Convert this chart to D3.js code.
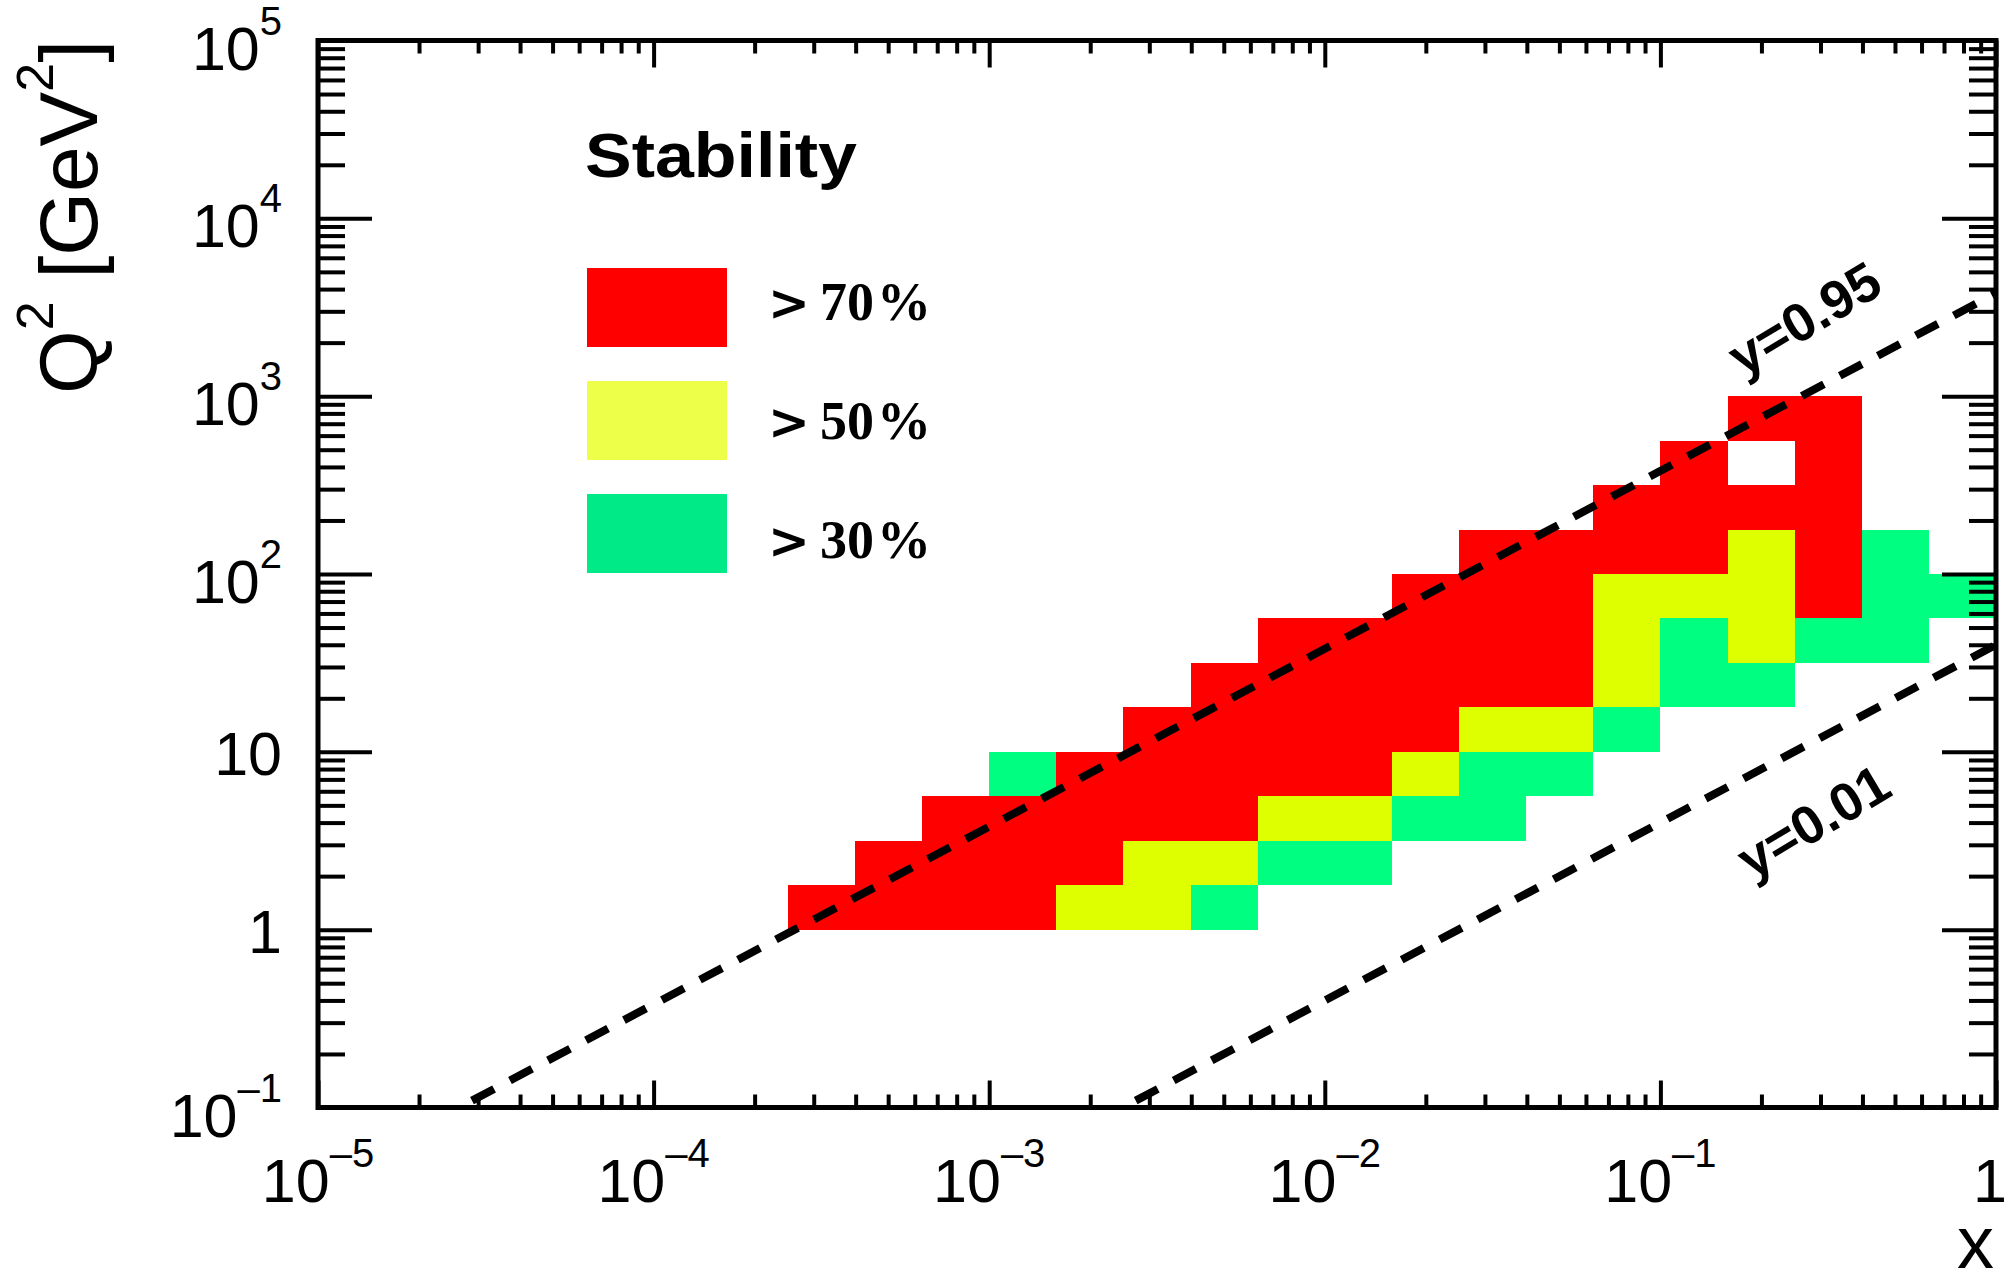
<!DOCTYPE html>
<html>
<head>
<meta charset="utf-8">
<script src="https://cdn.jsdelivr.net/npm/d3@7"></script>
<style>
  body { margin: 0; background: #fff; }
  svg { display: block; }
  text { font-family: "Liberation Sans", Arial, Helvetica, sans-serif; fill: #000; }
</style>
</head>
<body>
<script>
const width = 2010, height = 1286;

// histogram binning: lower edges in log10, x bins 0.2 decade, Q2 bins 0.25 decade
const xBinLow = [-3.6, -3.4, -3.2, -3.0, -2.8, -2.6, -2.4, -2.2, -2.0,
                 -1.8, -1.6, -1.4, -1.2, -1.0, -0.8, -0.6, -0.4, -0.2];
const q2BinLow = [2.75, 2.5, 2.25, 2.0, 1.75, 1.5, 1.25, 1.0, 0.75, 0.5, 0.25, 0.0]; // top row first
const xBinWidth = 0.2;
const q2BinWidth = 0.25;

// stability class per bin (one string per Q2 row, one char per x bin)
// R: > 70%, Y: > 50%, G: > 30%, '.': below
const stabilityMap = [
  "..............RR..",
  ".............R.R..",
  "............RRRR..",
  "..........RRRRYRG.",
  ".........RRRYYYRGG",
  ".......RRRRRYGYGG.",
  "......RRRRRRYGG...",
  ".....RRRRRYYG.....",
  "...GRRRRRYGG......",
  "..RRRRRYYGG.......",
  ".RRRRYYGG.........",
  "RRRRYYG..........."
];

const legendLabels = ["70%", "50%", "30%"];
const legendColors = ["#ff0000", "#eeff4a", "#00ea88"];
const cellColors = { R: "#ff0000", Y: "#deff00", G: "#00ff80" };

// lines of constant inelasticity y, Q2 = s x y
const sGeV2 = 4000;
const yValues = [0.95, 0.01];
const yLabelPos = [[0.268, 2750], [0.285, 4.1]]; // [x, Q2] of label centres

// tick labels: [base, exponent]
const xTickLabels = [["10", "\u20135"], ["10", "\u20134"], ["10", "\u20133"], ["10", "\u20132"], ["10", "\u20131"], ["1", ""]];
const xTickValues = [1e-5, 1e-4, 1e-3, 1e-2, 1e-1, 1];
const yTickLabels = [["10", "\u20131"], ["1", ""], ["10", ""], ["10", "2"], ["10", "3"], ["10", "4"], ["10", "5"]];
const yTickValues = [1e-1, 1, 10, 1e2, 1e3, 1e4, 1e5];

const svg = d3.select("body").append("svg")
  .attr("width", width)
  .attr("height", height);

const x = d3.scaleLog().domain([1e-5, 1]).range([318, 1996]);
const y = d3.scaleLog().domain([0.1, 1e5]).range([1107.5, 40.5]);

svg.append("clipPath").attr("id", "frame-clip")
  .append("rect")
  .attr("x", x.range()[0]).attr("y", y.range()[1])
  .attr("width", x.range()[1] - x.range()[0])
  .attr("height", y.range()[0] - y.range()[1]);

// histogram cells
let cells = [];
stabilityMap.forEach((row, ri) => {
  row.split("").forEach((c, ci) => {
    if (c !== ".") cells.push({ xlo: xBinLow[ci], qlo: q2BinLow[ri], cls: c });
  });
});

svg.append("g").selectAll("rect").data(cells).enter()
  .append("rect")
  .attr("x", d => x(10 ** d.xlo))
  .attr("width", d => x(10 ** (d.xlo + xBinWidth)) - x(10 ** d.xlo))
  .attr("y", d => y(10 ** (d.qlo + q2BinWidth)))
  .attr("height", d => y(10 ** d.qlo) - y(10 ** (d.qlo + q2BinWidth)))
  .attr("fill", d => cellColors[d.cls])
  .attr("shape-rendering", "crispEdges");

// dashed y lines
const line = d3.line().x(d => x(d[0])).y(d => y(d[1]));
svg.append("g").attr("clip-path", "url(#frame-clip)")
  .selectAll("path").data(yValues).enter()
  .append("path")
  .attr("d", v => line([[0.05 / (sGeV2 * v), 0.05], [1, sGeV2 * v]]))
  .attr("fill", "none")
  .attr("stroke", "#000")
  .attr("stroke-width", 8)
  .attr("stroke-dasharray", "25 18");

// angle of the lines on screen
const angle = Math.atan2(y(sGeV2) - y(sGeV2 * 0.1), x(1) - x(0.1)) * 180 / Math.PI;

svg.append("g").selectAll("text").data(yValues).enter()
  .append("text")
  .attr("transform", (v, i) => `translate(${x(yLabelPos[i][0])},${y(yLabelPos[i][1])}) rotate(${angle - 3})`)
  .attr("text-anchor", "middle")
  .attr("dy", "0.36em")
  .style("font-size", "54px")
  .style("font-weight", "bold")
  .text(v => "y=" + v);

// frame
svg.append("rect")
  .attr("x", x.range()[0]).attr("y", y.range()[1])
  .attr("width", x.range()[1] - x.range()[0])
  .attr("height", y.range()[0] - y.range()[1])
  .attr("fill", "none")
  .attr("stroke", "#000")
  .attr("stroke-width", 5);

// ticks: majors at powers of ten, minors from the log scale ticks
const isPow = v => Math.abs(Math.log10(v) - Math.round(Math.log10(v))) < 1e-9;
const xMinor = x.ticks().filter(v => !isPow(v));
const yMinor = y.ticks().filter(v => !isPow(v));

function tickGroup(axis, tx, ty) {
  const g = svg.append("g").attr("transform", `translate(${tx},${ty})`).call(axis.tickFormat(""));
  g.select(".domain").remove();
  g.selectAll(".tick line").attr("stroke", "#000").attr("stroke-width", 4);
}

tickGroup(d3.axisBottom(x).tickValues(xTickValues).tickSize(-27), 0, y.range()[0]);
tickGroup(d3.axisBottom(x).tickValues(xMinor).tickSize(-13), 0, y.range()[0]);
tickGroup(d3.axisTop(x).tickValues(xTickValues).tickSize(-27), 0, y.range()[1]);
tickGroup(d3.axisTop(x).tickValues(xMinor).tickSize(-13), 0, y.range()[1]);
tickGroup(d3.axisLeft(y).tickValues(yTickValues).tickSize(-54), x.range()[0], 0);
tickGroup(d3.axisLeft(y).tickValues(yMinor).tickSize(-27), x.range()[0], 0);
tickGroup(d3.axisRight(y).tickValues(yTickValues).tickSize(-54), x.range()[1], 0);
tickGroup(d3.axisRight(y).tickValues(yMinor).tickSize(-27), x.range()[1], 0);

// tick labels with superscripts
function powerLabel(sel, lab) {
  sel.append("tspan").text(lab[0]);
  if (lab[1] !== "") {
    sel.append("tspan").attr("dy", -35).style("font-size", "40px").text(lab[1]);
  }
}

svg.append("g").selectAll("text").data(xTickValues).enter()
  .append("text")
  .attr("x", (d, i) => x(d) - (i === xTickValues.length - 1 ? 6 : 0))
  .attr("y", 1202)
  .attr("text-anchor", "middle")
  .style("font-size", "61px")
  .each(function(d, i) { powerLabel(d3.select(this), xTickLabels[i]); });

svg.append("g").selectAll("text").data(yTickValues).enter()
  .append("text")
  .attr("x", 282)
  .attr("y", (d, i) => y(d) + (yTickLabels[i][1] !== "" ? 29 : 23))
  .attr("text-anchor", "end")
  .style("font-size", "61px")
  .each(function(d, i) { powerLabel(d3.select(this), yTickLabels[i]); });

// axis titles
svg.append("text")
  .attr("x", 1994).attr("y", 1268)
  .attr("text-anchor", "end")
  .style("font-size", "74px")
  .text("x");

let yTitle = svg.append("text")
  .attr("transform", "translate(97,40) rotate(-90)")
  .attr("text-anchor", "end")
  .style("font-size", "82px");
yTitle.append("tspan").text("Q");
yTitle.append("tspan").attr("dy", -44).style("font-size", "52px").text("2");
yTitle.append("tspan").attr("dy", 44).text(" [GeV");
yTitle.append("tspan").attr("dy", -44).style("font-size", "52px").text("2");
yTitle.append("tspan").attr("dy", 44).text("]");

// legend
svg.append("text")
  .attr("x", 585).attr("y", 177)
  .attr("textLength", 272)
  .attr("lengthAdjust", "spacingAndGlyphs")
  .style("font-size", "63px")
  .style("font-weight", "bold")
  .text("Stability");

let legend = svg.append("g").selectAll("g").data(legendLabels).enter().append("g");
legend.append("rect")
  .attr("x", 587)
  .attr("y", (d, i) => 268 + i * 113)
  .attr("width", 140)
  .attr("height", 79)
  .attr("fill", (d, i) => legendColors[i]);
let legendText = legend.append("text")
  .attr("x", 768)
  .attr("y", (d, i) => 320 + i * 119)
  .style("font-family", "'Liberation Serif', 'Times New Roman', serif")
  .style("font-weight", "bold")
  .style("font-size", "54px");
legendText.append("tspan")
  .style("font-family", "'DejaVu Sans', 'Liberation Sans', sans-serif")
  .style("font-size", "50px")
  .text(">");
legendText.append("tspan").attr("dx", 10).text(d => d.replace("%", ""));
legendText.append("tspan").attr("dx", 3).text("%");
</script>
</body>
</html>
